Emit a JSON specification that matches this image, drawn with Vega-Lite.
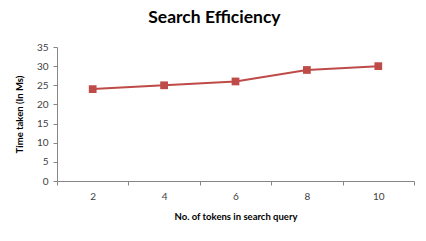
{
  "$schema": "https://vega.github.io/schema/vega-lite/v6.json",
  "width": 357,
  "height": 134,
  "autosize": "none",
  "padding": {"left": 57, "top": 47, "right": 12, "bottom": 60},
  "background": "white",
  "title": {
    "text": "Search Efficiency",
    "font": "Lato",
    "fontSize": 17.5,
    "fontWeight": "bold",
    "color": "#000000",
    "anchor": "middle",
    "frame": "bounds",
    "offset": 16
  },
  "data": {
    "values": [
      {"tokens": 2, "time": 24},
      {"tokens": 4, "time": 25},
      {"tokens": 6, "time": 26},
      {"tokens": 8, "time": 29},
      {"tokens": 10, "time": 30}
    ]
  },
  "config": {
    "view": {"stroke": null},
    "axis": {
      "labelFont": "Lato",
      "titleFont": "Lato",
      "labelFontSize": 10,
      "labelColor": "#404040",
      "titleFontSize": 9.5,
      "titleFontWeight": "bold",
      "titleColor": "#000000",
      "domainColor": "#868686",
      "tickColor": "#868686",
      "grid": false
    }
  },
  "encoding": {
    "x": {
      "field": "tokens",
      "type": "quantitative",
      "scale": {"domain": [1, 11], "nice": false, "zero": false},
      "axis": {
        "title": "No. of tokens in search query",
        "values": [1, 2, 3, 4, 5, 6, 7, 8, 9, 10, 11],
        "labelExpr": "datum.value % 2 == 0 ? datum.label : ''",
        "tickOpacity": {"condition": {"test": "datum.value % 2 == 0", "value": 0}, "value": 1},
        "tickSize": 4,
        "labelPadding": 6,
        "titlePadding": 10
      }
    },
    "y": {
      "field": "time",
      "type": "quantitative",
      "scale": {"domain": [0, 35], "nice": false},
      "axis": {
        "title": "Time taken (In Ms)",
        "values": [0, 5, 10, 15, 20, 25, 30, 35],
        "tickSize": 4,
        "labelPadding": 5,
        "titlePadding": 12
      }
    }
  },
  "layer": [
    {"mark": {"type": "line", "color": "#BE4B48", "strokeWidth": 2}},
    {"mark": {"type": "point", "shape": "square", "filled": true, "color": "#BE4B48", "opacity": 1, "size": 60}}
  ]
}
